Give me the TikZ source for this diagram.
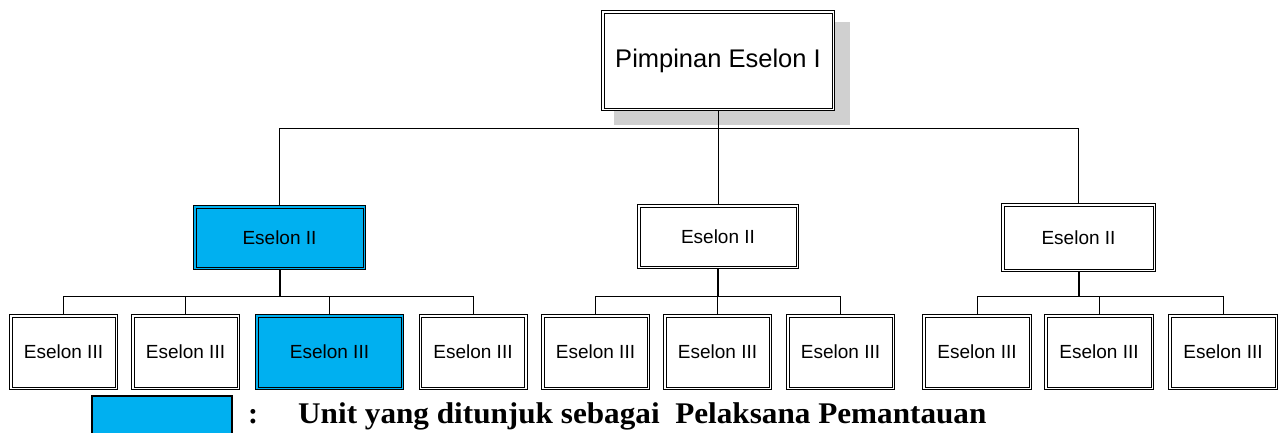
\documentclass[tikz,border=0pt]{standalone}
\usepackage{fontspec}
\setmainfont{Liberation Serif}
\newfontfamily\boxfont{Liberation Sans}
\definecolor{unitblue}{HTML}{00B0F0}
\definecolor{shadowgray}{HTML}{D0D0D0}
\begin{document}
\begin{tikzpicture}[x=1pt,y=-1pt,
  box/.style={draw=black, line width=0.8pt, fill=white, rectangle, inner sep=0pt,
    font=\boxfont\fontsize{19}{22}\selectfont},
  bluebox/.style={box, fill=unitblue},
  inner/.style={draw=black, line width=0.8pt},
  conn/.style={draw=black, line width=0.8pt},
  thickconn/.style={draw=black, line width=2pt}]
\useasboundingbox (0,0) rectangle (1279,432);
% top
\fill[shadowgray] (614,22) rectangle (850,125);
\node[box, minimum width=233pt, minimum height=100pt, font=\boxfont\fontsize{25.5}{29}\selectfont] (p) at (718,60.5) {Pimpinan Eselon I};
% level 2
\node[bluebox, minimum width=172pt, minimum height=64pt] (e2a) at (279.5,237.5) {Eselon II};
\node[box, minimum width=161pt, minimum height=64pt] (e2b) at (718,236.5) {Eselon II};
\node[box, minimum width=154pt, minimum height=68pt] (e2c) at (1078.5,237.5) {Eselon II};
% level 3
\node[box, minimum width=108pt, minimum height=75pt] (a1) at (63.5,352) {Eselon III};
\node[box, minimum width=108pt, minimum height=75pt] (a2) at (185.5,352) {Eselon III};
\node[bluebox, minimum width=148pt, minimum height=75pt] (a3) at (329.5,352) {Eselon III};
\node[box, minimum width=108pt, minimum height=75pt] (a4) at (473,352) {Eselon III};
\node[box, minimum width=108pt, minimum height=75pt] (b1) at (595.5,352) {Eselon III};
\node[box, minimum width=108pt, minimum height=75pt] (b2) at (717.5,352) {Eselon III};
\node[box, minimum width=108pt, minimum height=75pt] (b3) at (840.5,352) {Eselon III};
\node[box, minimum width=109pt, minimum height=75pt] (c1) at (977,352) {Eselon III};
\node[box, minimum width=109pt, minimum height=75pt] (c2) at (1099,352) {Eselon III};
\node[box, minimum width=109pt, minimum height=75pt] (c3) at (1223,352) {Eselon III};
% inner lines of the double borders
\foreach \n in {p,e2a,e2b,e2c,a1,a2,a3,a4,b1,b2,b3,c1,c2,c3}
  \draw[inner] ([shift={(3,3)}]\n.north west) rectangle ([shift={(-3,-3)}]\n.south east);
% bus coordinates
\coordinate (bus1) at (718,128);
\coordinate (busa) at (280,296);
\coordinate (busb) at (718,296);
\coordinate (busc) at (1079,296);
% connectors level 1-2
\draw[conn] (p.south) -- (bus1);
\draw[conn] (e2a.north) -- (e2a.north |- bus1) -- (e2c.north |- bus1) -- (e2c.north);
\draw[conn] (bus1) -- (e2b.north);
% connectors level 2-3
\draw[thickconn] (e2a.south) -- (e2a.south |- busa);
\draw[conn] (a1.north) -- (a1.north |- busa) -- (a4.north |- busa) -- (a4.north);
\draw[conn] (a2.north) -- (a2.north |- busa);
\draw[conn] (a3.north) -- (a3.north |- busa);
\draw[thickconn] (e2b.south) -- (e2b.south |- busb);
\draw[conn] (b1.north) -- (b1.north |- busb) -- (b3.north |- busb) -- (b3.north);
\draw[conn] (b2.north) -- (b2.north |- busb);
\draw[thickconn] (e2c.south) -- (e2c.south |- busc);
\draw[conn] (c1.north) -- (c1.north |- busc) -- (c3.north |- busc) -- (c3.north);
\draw[conn] (c2.north) -- (c2.north |- busc);
% legend
\node[draw=black, line width=1.8pt, fill=unitblue, minimum width=140pt, minimum height=44pt, inner sep=0pt] (leg) at (162,418) {};
\node[anchor=base, inner sep=0pt, font=\bfseries\fontsize{30}{34}\selectfont] (colon) at (253,423) {:};
\node[anchor=base west, inner sep=0pt, font=\bfseries\fontsize{30}{34}\selectfont] (legtext) at (298,423) {\scalebox{1.04}[1]{Unit yang ditunjuk sebagai\ \ Pelaksana Pemantauan}};
\end{tikzpicture}
\end{document}
